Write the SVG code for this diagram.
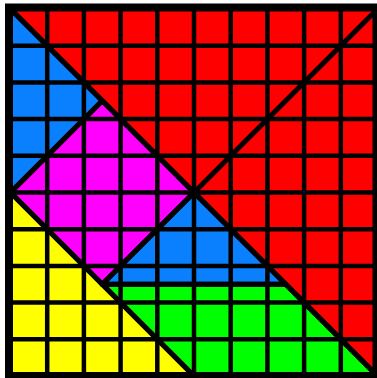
<svg xmlns="http://www.w3.org/2000/svg" width="377" height="378" viewBox="0 0 377 378">
  <style>
    .grid line { stroke: #000; stroke-width: 4.5; }
    .edge { fill: none; stroke: #000; stroke-width: 5; stroke-linejoin: round; }
    .border { fill: none; stroke: #000; stroke-width: 7; }
  </style>
  <rect x="0" y="0" width="377" height="378" fill="#fff"/>
  <g id="pieces">
    <g id="red"><polygon points="10.5,9 377.5,9 377.5,376" fill="#FF0000"/></g>
    <g id="blue-top"><polygon points="10.5,9 102.25,100.75 10.5,192.5" fill="#0A80FF"/></g>
    <g id="magenta"><polygon points="102.25,100.75 194,192.5 102.25,284.25 10.5,192.5" fill="#FF00FF"/></g>
    <g id="yellow"><polygon points="10.5,192.5 194,376 10.5,376" fill="#FFFF00"/></g>
    <g id="blue-mid"><polygon points="194,192.5 285.75,284.25 102.25,284.25" fill="#0A80FF"/></g>
    <g id="green"><polygon points="102.25,284.25 285.75,284.25 377.5,376 194,376" fill="#00FF00"/></g>
  </g>
  <g class="grid" id="grid">
    <line x1="47.2" y1="9" x2="47.2" y2="376"/>
    <line x1="83.9" y1="9" x2="83.9" y2="376"/>
    <line x1="120.6" y1="9" x2="120.6" y2="376"/>
    <line x1="157.3" y1="9" x2="157.3" y2="376"/>
    <line x1="194" y1="9" x2="194" y2="376"/>
    <line x1="230.7" y1="9" x2="230.7" y2="376"/>
    <line x1="267.4" y1="9" x2="267.4" y2="376"/>
    <line x1="304.1" y1="9" x2="304.1" y2="376"/>
    <line x1="340.8" y1="9" x2="340.8" y2="376"/>
    <line x1="10.5" y1="45.7" x2="377" y2="45.7"/>
    <line x1="10.5" y1="82.4" x2="377" y2="82.4"/>
    <line x1="10.5" y1="119.1" x2="377" y2="119.1"/>
    <line x1="10.5" y1="155.8" x2="377" y2="155.8"/>
    <line x1="10.5" y1="192.5" x2="377" y2="192.5"/>
    <line x1="10.5" y1="229.2" x2="377" y2="229.2"/>
    <line x1="10.5" y1="265.9" x2="377" y2="265.9"/>
    <line x1="10.5" y1="302.6" x2="377" y2="302.6"/>
    <line x1="10.5" y1="339.3" x2="377" y2="339.3"/>
  </g>
  <g id="edges">
    <polygon class="edge" points="10.5,9 377.5,9 377.5,376"/>
    <polygon class="edge" points="10.5,9 102.25,100.75 10.5,192.5"/>
    <polygon class="edge" points="102.25,100.75 194,192.5 102.25,284.25 10.5,192.5"/>
    <polygon class="edge" points="10.5,192.5 194,376 10.5,376"/>
    <polygon class="edge" points="194,192.5 285.75,284.25 102.25,284.25"/>
    <polygon class="edge" points="102.25,284.25 285.75,284.25 377.5,376 194,376"/>
    <line class="edge" x1="377.5" y1="9" x2="194" y2="192.5"/>
  </g>
  <g id="border">
    <rect class="border" x="8.5" y="7" width="367.5" height="368.5"/>
  </g>
</svg>
